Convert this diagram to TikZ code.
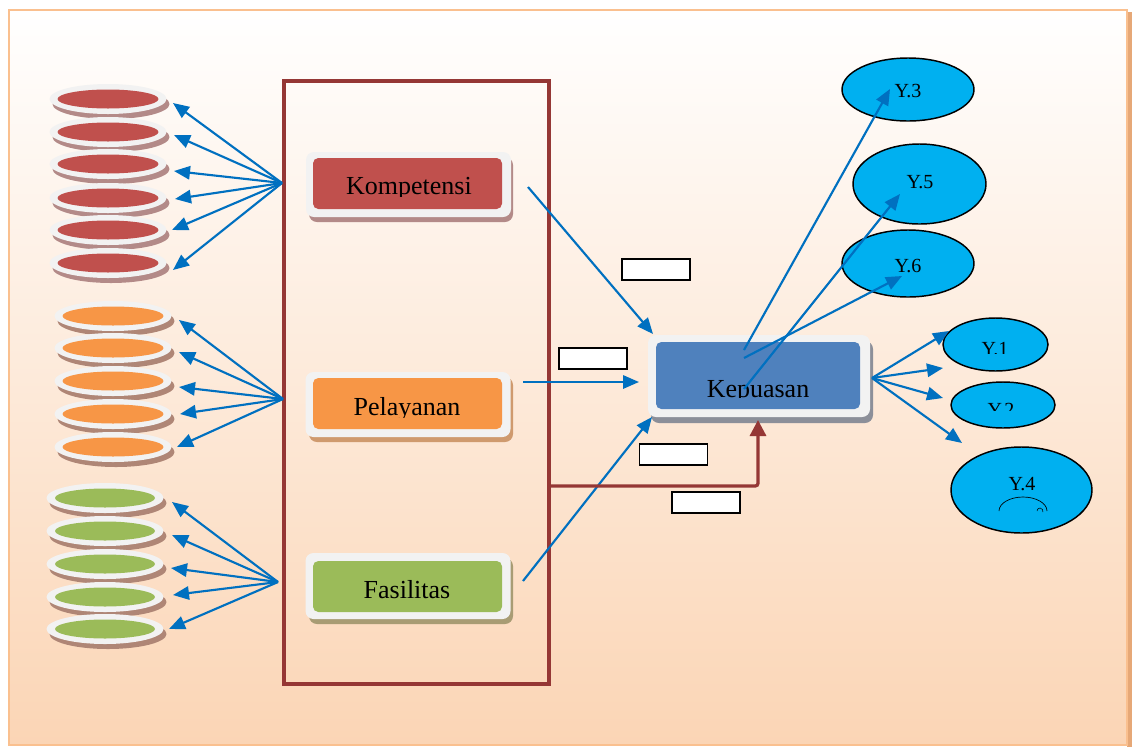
\documentclass[tikz,border=0pt]{standalone}
\usepackage{fontspec}
\setmainfont{Liberation Serif}
\usetikzlibrary{arrows.meta,shapes.geometric}

\definecolor{frameline}{HTML}{FAC08F}
\definecolor{frameshade}{HTML}{E6A877}
\definecolor{peach}{HTML}{FBD5B5}
\definecolor{darkred}{HTML}{953735}
\definecolor{kred}{HTML}{C0504D}
\definecolor{porange}{HTML}{F79646}
\definecolor{fgreen}{HTML}{9BBB59}
\definecolor{kblue}{HTML}{4F81BD}
\definecolor{arrowblue}{HTML}{0070C0}
\definecolor{ycyan}{HTML}{00B0F0}
\definecolor{rim}{HTML}{F2F2F2}
\definecolor{redshadow}{HTML}{B38A88}
\definecolor{diskshadow}{HTML}{AF8676}
\definecolor{orshadow}{HTML}{CF9A6E}
\definecolor{grshadow}{HTML}{A89C74}
\definecolor{blshadow}{HTML}{8C8F99}

\begin{document}
\begin{tikzpicture}[x=0.75pt,y=-0.75pt,
  disk/.style={ellipse,fill=rim,minimum width=87.75pt,minimum height=22.5pt,inner sep=0pt},
  outerbox/.style={rectangle,rounded corners=6pt,fill=rim,inner sep=0pt,
    minimum width=153.75pt,minimum height=48.75pt},
  innerbox/.style={rectangle,rounded corners=4pt,inner sep=0pt,
    minimum width=141.75pt,minimum height=38.25pt},
  lbl/.style={inner sep=0pt,anchor=base,font=\fontsize{19.5}{22}\selectfont},
  ylbl/.style={inner sep=0pt,anchor=base,font=\fontsize{15}{17}\selectfont},
  yell/.style={ellipse,fill=ycyan,draw=black,line width=1.1pt,inner sep=0pt},
  tag/.style={rectangle,fill=white,draw=black,line width=1.1pt,inner sep=0pt,
    minimum width=51pt,minimum height=15.75pt},
  barrow/.style={arrowblue,line width=1.6pt,-{Triangle[length=12pt,width=10pt]}},
  rarrow/.style={darkred,line width=2.4pt,rounded corners=2pt,-{Triangle[length=12pt,width=12pt]}}
]
\useasboundingbox (0,0) rectangle (1132,747);

% page background and frame
\fill[white] (0,0) rectangle (1132,747);
\fill[frameshade] (1127,12) rectangle (1132,747);
\shade[top color=white,bottom color=peach] (9,9.5) rectangle (1127,745);
\draw[frameline,line width=1.5pt] (9,9.5) rectangle (1127,745);

% grouping rectangle around the three factors
\node[draw=darkred,line width=2.4pt,inner sep=0pt,
  minimum width=198.75pt,minimum height=452.25pt] (grp) at (416.5,382.5) {};

% indicator disks
\foreach \n/\yy in {1/99,2/132,3/164,4/198,5/230,6/263}{
  \fill[redshadow] (111,\yy+5) ellipse [x radius=58.5,y radius=15];
  \node[disk] (r\n) at (108,\yy) {};
  \fill[kred] (r\n.center) ellipse [x radius=50.5,y radius=9.5];
}
\foreach \n/\yy in {1/316,2/348,3/381,4/414,5/447}{
  \fill[diskshadow] (116,\yy+5) ellipse [x radius=58.5,y radius=15];
  \node[disk] (o\n) at (113,\yy) {};
  \fill[porange] (o\n.center) ellipse [x radius=50.5,y radius=9.5];
}
\foreach \n/\yy in {1/498,2/531,3/564,4/597,5/629}{
  \fill[diskshadow] (108,\yy+5) ellipse [x radius=58.5,y radius=15];
  \node[disk] (g\n) at (105,\yy) {};
  \fill[fgreen] (g\n.center) ellipse [x radius=50,y radius=9.5];
}

% factor boxes
\fill[redshadow,rounded corners=6pt] (309,157) rectangle (513,222);
\node[outerbox] (komp) at (408.5,184.5) {};
\node[innerbox,fill=kred] (komp-in) at (407.5,183.5) {};
\begin{scope}
  \clip (300,150) rectangle (520,196);
  \node[lbl] (komp-t) at (409,194) {Kompetensi};
\end{scope}

\fill[orshadow,rounded corners=6pt] (309,377) rectangle (513,442);
\node[outerbox] (pel) at (408,404.5) {};
\node[innerbox,fill=porange] (pel-in) at (407.5,403.5) {};
\begin{scope}
  \clip (300,370) rectangle (520,417);
  \node[lbl] (pel-t) at (407,415) {Pelayanan};
\end{scope}

\fill[grshadow,rounded corners=6pt] (309,558) rectangle (513,624);
\node[outerbox,minimum height=49.5pt] (fas) at (408,586) {};
\node[innerbox,fill=fgreen] (fas-in) at (407.5,586.5) {};
\node[lbl] (fas-t) at (407,598) {Fasilitas};

% dependent variable box
\fill[blshadow,rounded corners=6pt] (651,341) rectangle (873,423);
\node[outerbox,minimum width=166.5pt,minimum height=61.5pt] (kep) at (759,376) {};
\node[innerbox,fill=kblue,minimum width=153pt,minimum height=50.25pt] (kep-in) at (758,375.5) {};
\begin{scope}
  \clip (650,330) rectangle (870,397.5);
  \node[lbl] (kep-t) at (758,397) {Kepuasan};
\end{scope}

% indicator ellipses of the dependent variable
\node[yell,minimum width=99pt,minimum height=47.25pt] (y3) at (908,89.5) {};
\node[ylbl] (y3-t) at (908,97) {Y.3};
\node[yell,minimum width=99.75pt,minimum height=60pt] (y5) at (919.5,184) {};
\node[ylbl] (y5-t) at (920,188) {Y.5};
\node[yell,minimum width=99pt,minimum height=50.25pt] (y6) at (908,263.5) {};
\node[ylbl] (y6-t) at (908,272) {Y.6};
\node[yell,minimum width=78.75pt,minimum height=39.75pt] (y1) at (995.5,344.5) {};
\begin{scope}
  \clip (950,330) rectangle (1040,353);
  \node[ylbl] (y1-t) at (995,355.5) {Y.1};
\end{scope}
\node[yell,minimum width=78pt,minimum height=34.5pt] (y2) at (1003,405) {};
\begin{scope}
  \clip (960,395) rectangle (1050,410);
  \node[ylbl] (y2-t) at (1001,416.5) {Y.2};
\end{scope}
\node[yell,minimum width=105.75pt,minimum height=64.5pt] (y4) at (1021.5,490) {};
\node[ylbl] (y4-t) at (1022,490) {Y.4};
% small stray marks under Y.4
\draw[black,line width=0.5pt] (999,511) arc [start angle=180,end angle=360,x radius=24,y radius=14];
\draw[black,line width=0.4pt] (1037,511) arc [start angle=180,end angle=380,radius=3];

% coefficient tags
\node[tag] (tag1) at (656,269.5) {};
\node[tag] (tag2) at (593,358.5) {};
\node[tag] (tag3) at (673.5,454.5) {};
\node[tag] (tag4) at (706,502.5) {};

% arrow hubs and tips on the left
\coordinate (rhub) at (282,183);
\coordinate (ohub) at (283,399);
\coordinate (ghub) at (278,582);
\foreach \n/\tx/\ty in {1/173/103,2/174/135,3/174/171,4/175/199,5/172/230,6/173/270}
  \coordinate (rt\n) at (\tx,\ty);
\foreach \n/\tx/\ty in {1/179/320,2/179/352,3/179/387,4/180/414,5/177/447}
  \coordinate (ot\n) at (\tx,\ty);
\foreach \n/\tx/\ty in {1/172/502,2/172/535,3/171/568,4/173/595,5/169/629}
  \coordinate (gt\n) at (\tx,\ty);
\foreach \n in {1,...,6} \draw[barrow] (rhub) -- (rt\n);
\foreach \n in {1,...,5} \draw[barrow] (ohub) -- (ot\n);
\foreach \n in {1,...,5} \draw[barrow] (ghub) -- (gt\n);

% paths into the dependent variable
\coordinate (k-out) at (528,187);
\coordinate (k-in) at (653,334);
\coordinate (p-out) at (523,382);
\coordinate (p-in) at (639,382);
\coordinate (f-out) at (523,581);
\coordinate (f-in) at (652,417);
\draw[barrow] (k-out) -- (k-in);
\draw[barrow] (p-out) -- (p-in);
\draw[barrow] (f-out) -- (f-in);
\coordinate (join) at (549,486);
\coordinate (kep-bot) at (758,420);
\draw[rarrow] (join) -| (kep-bot);

% paths out of the dependent variable
\coordinate (s3) at (744,350);
\coordinate (s5) at (744,389);
\coordinate (s6) at (744,358);
\coordinate (t3) at (890,89);
\coordinate (t5) at (900,194);
\coordinate (t6) at (902,276);
\draw[barrow] (s3) -- (t3);
\draw[barrow] (s5) -- (t5);
\draw[barrow] (s6) -- (t6);
\coordinate (khub) at (872,378);
\coordinate (t1) at (949,331);
\coordinate (t2) at (943,368);
\coordinate (t2b) at (943,398);
\coordinate (t4) at (962,443);
\foreach \t in {t1,t2,t2b,t4} \draw[barrow] (khub) -- (\t);
\end{tikzpicture}
\end{document}
